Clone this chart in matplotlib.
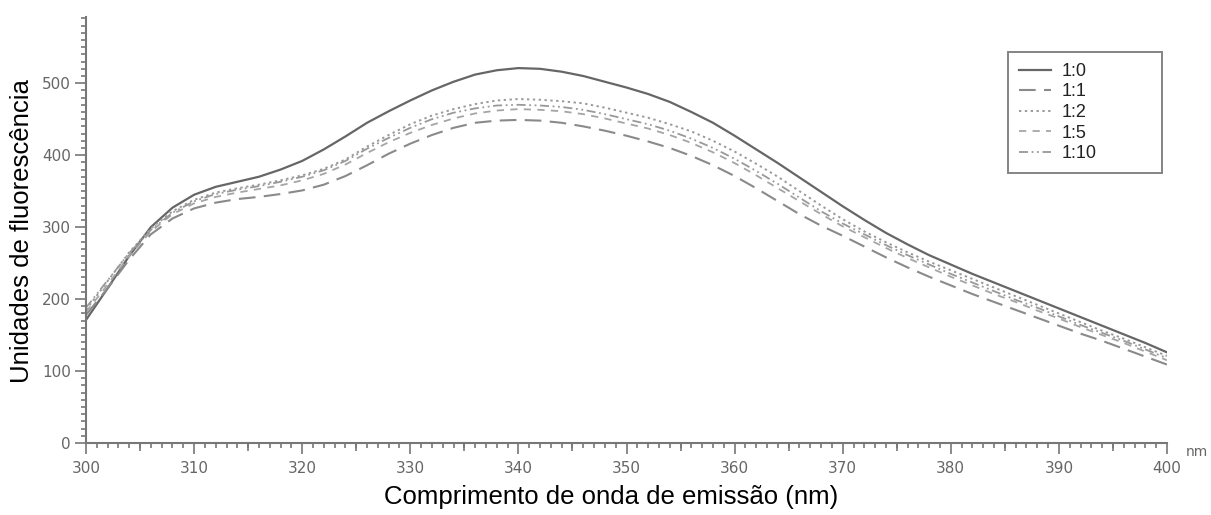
import numpy as np
import matplotlib
matplotlib.use("Agg")
import matplotlib.pyplot as plt
from matplotlib.ticker import MultipleLocator

# wavelength grid (nm) used for the read-off points
wl = [300, 302, 304, 306, 308, 310, 312, 314, 316, 318, 320, 322, 324, 326, 328,
      330, 332, 334, 336, 338, 340, 342, 344, 346, 348, 350, 352, 354, 356, 358,
      360, 362, 364, 366, 368, 370, 372, 374, 376, 378, 380, 382, 384, 386, 388,
      390, 392, 394, 396, 398, 400]

r1_0 = [171, 215, 260, 300, 327, 345, 356, 363, 370, 380, 392, 408, 426, 445, 461,
        476, 490, 502, 512, 518, 521, 520, 516, 510, 502, 494, 485, 474, 460, 445,
        427, 408, 389, 369, 349, 329, 310, 292, 276, 261, 248, 235, 223, 211, 199,
        187, 175, 163, 151, 139, 126]
r1_1 = [178, 215, 255, 290, 312, 326, 334, 339, 342, 346, 351, 359, 371, 386, 402,
        416, 428, 438, 445, 448, 449, 448, 445, 440, 434, 427, 419, 410, 399, 386,
        371, 354, 336, 318, 302, 288, 273, 258, 244, 231, 219, 207, 196, 185, 174,
        163, 152, 142, 131, 120, 109]
r1_2 = [185, 225, 265, 298, 322, 338, 348, 354, 359, 365, 372, 381, 394, 412, 428,
        443, 455, 464, 471, 476, 478, 477, 475, 472, 466, 459, 452, 443, 433, 420,
        405, 388, 370, 350, 330, 311, 294, 279, 265, 252, 240, 228, 216, 204, 192,
        180, 168, 156, 145, 133, 121]
r1_5 = [182, 220, 260, 294, 318, 333, 342, 348, 353, 358, 365, 374, 387, 403, 418,
        431, 442, 451, 458, 462, 464, 463, 461, 457, 451, 444, 437, 428, 417, 404,
        389, 372, 354, 336, 318, 301, 286, 271, 257, 244, 231, 219, 207, 196, 184,
        173, 161, 150, 139, 127, 115]
r1_10 = [188, 226, 264, 296, 320, 336, 346, 352, 357, 363, 370, 379, 392, 409, 424,
         438, 450, 459, 465, 469, 470, 469, 467, 463, 457, 450, 443, 434, 423, 410,
         395, 378, 360, 341, 322, 305, 290, 275, 261, 248, 235, 223, 211, 199, 188,
         176, 164, 153, 142, 130, 118]

labels = ["1:0", "1:1", "1:2", "1:5", "1:10"]
series = [r1_0, r1_1, r1_2, r1_5, r1_10]
styles = ["-", (0, (8, 4)), (0, (1.2, 1.8)), (0, (4, 3.5)), (0, (5, 2, 1, 2, 1, 2))]
colors = ["#666666", "#8a8a8a", "#9a9a9a", "#a5a5a5", "#999999"]
widths = [1.6, 1.5, 1.4, 1.3, 1.3]

fig = plt.figure(figsize=(12.11, 5.15), dpi=100)
ax = fig.add_axes([86 / 1211, 1 - 443 / 515, (1167 - 86) / 1211, (443 - 17) / 515])

for y, lab, ls, c, lw in zip(series, labels, styles, colors, widths):
    ax.plot(wl, y, linestyle=ls, color=c, linewidth=lw, label=lab)

ax.set_xlim(300, 400)
ax.set_ylim(0, 592)

for s in ["top", "right"]:
    ax.spines[s].set_visible(False)
for s in ["left", "bottom"]:
    ax.spines[s].set_color("#777777")
    ax.spines[s].set_linewidth(1.5)

ax.xaxis.set_major_locator(MultipleLocator(10))
ax.xaxis.set_minor_locator(MultipleLocator(1))
ax.yaxis.set_major_locator(MultipleLocator(100))
ax.yaxis.set_minor_locator(MultipleLocator(10))
ax.tick_params(axis="both", which="major", length=8, width=1.2, color="#777777",
               labelsize=11, labelcolor="#666666")
ax.tick_params(axis="both", which="minor", length=3.5, width=1.2, color="#777777")
ax.tick_params(axis="x", pad=5)
ax.tick_params(axis="y", pad=3)

# medium ticks at the 5 nm marks
sec = ax.secondary_xaxis("bottom")
sec.set_xticks([305, 315, 325, 335, 345, 355, 365, 375, 385, 395])
sec.tick_params(length=5.5, width=1.2, color="#777777", labelbottom=False)
sec.spines["bottom"].set_visible(False)

for t in ax.get_xticklabels() + ax.get_yticklabels():
    t.set_fontfamily("Liberation Sans Narrow")

fig.text(1197 / 1211, 1 - 452 / 515, "nm", fontsize=10, color="#666666",
         ha="center", va="center", family="Liberation Sans Narrow")

fig.text(22 / 1211, 1 - 231 / 515, "Unidades de fluorescência", fontsize=18.5,
         family="Liberation Sans", rotation=90, ha="center", va="center")
fig.text(0.505, 1 - 497 / 515, "Comprimento de onda de emissão (nm)", fontsize=18.5,
         family="Liberation Sans", ha="center", va="center")

leg = ax.legend(loc="upper left",
                bbox_to_anchor=(1008 / 1211, 1 - 179 / 515, 154 / 1211, 127 / 515),
                bbox_transform=fig.transFigure, mode="expand", fancybox=False,
                frameon=True, fontsize=13, handlelength=1.8, handletextpad=0.55,
                labelspacing=0.2, borderpad=0.6, borderaxespad=0)
leg.get_frame().set_edgecolor("#666666")
leg.get_frame().set_linewidth(1.4)
for t in leg.get_texts():
    t.set_fontfamily("Liberation Sans")
    t.set_color("#222222")

fig.savefig("out.png", dpi=100)
